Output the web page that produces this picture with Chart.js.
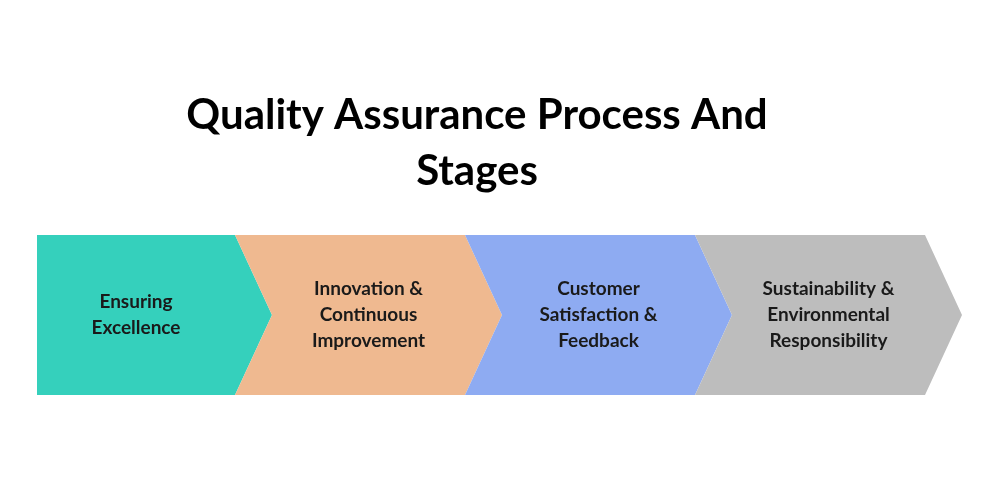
<!DOCTYPE html>
<html><head><meta charset="utf-8">
<script src="https://cdn.jsdelivr.net/npm/chart.js@4"></script>
<style>html,body{margin:0;background:#fff}#c{width:1000px;height:500px}</style>
</head><body><div id="c"><canvas id="chart"></canvas></div>
<script>
const stages = [
  ["Ensuring", "Excellence"],
  ["Innovation &", "Continuous", "Improvement"],
  ["Customer", "Satisfaction &", "Feedback"],
  ["Sustainability &", "Environmental", "Responsibility"]
];
const widths = [198, 230, 230, 230];
const colors = ["#35d0bc", "#efb990", "#8eabf2", "#bdbdbd"];
const titleLines = ["Quality Assurance Process And", "Stages"];
const TIP = 37;

const chevrons = {
  id: 'chevrons',
  afterDatasetsDraw(chart) {
    const ctx = chart.ctx;
    chart.data.datasets.forEach((ds, i) => {
      const bar = chart.getDatasetMeta(i).data[0];
      const x0 = bar.base, x1 = bar.x;
      const top = bar.y - bar.height / 2, bot = bar.y + bar.height / 2, mid = bar.y;
      ctx.save();
      ctx.fillStyle = colors[i];
      ctx.beginPath();
      ctx.moveTo(x0, top);
      ctx.lineTo(x1, top);
      ctx.lineTo(x1 + TIP, mid);
      ctx.lineTo(x1, bot);
      ctx.lineTo(x0, bot);
      if (i > 0) ctx.lineTo(x0 + TIP, mid);
      ctx.closePath();
      ctx.fill();
      ctx.fillStyle = '#1a1a1a';
      ctx.font = 'bold 19px Lato, "Open Sans", sans-serif';
      ctx.textAlign = 'center';
      ctx.textBaseline = 'middle';
      const cx = i === 0 ? (x0 + x1) / 2 : (x0 + x1) / 2 + TIP / 2;
      const lines = stages[i];
      lines.forEach((t, k) => ctx.fillText(t, cx, mid + (k - (lines.length - 1) / 2) * 26));
      ctx.restore();
    });
    ctx.save();
    ctx.fillStyle = '#000';
    ctx.font = 'bold 42px Lato, "Open Sans", sans-serif';
    ctx.textAlign = 'center';
    ctx.textBaseline = 'middle';
    titleLines.forEach((t, k) => ctx.fillText(t, 477, 115 + k * 56));
    ctx.restore();
  }
};

new Chart(document.getElementById('chart'), {
  type: 'bar',
  data: {
    labels: ['stages'],
    datasets: widths.map((w, i) => ({ label: stages[i].join(' '), data: [w], backgroundColor: 'rgba(0,0,0,0)' }))
  },
  options: {
    indexAxis: 'y',
    responsive: true,
    maintainAspectRatio: false,
    animation: false,
    layout: { padding: { top: 235, bottom: 105, left: 37, right: 38 } },
    datasets: { bar: { barPercentage: 1, categoryPercentage: 1 } },
    scales: {
      x: { stacked: true, display: false, min: 0, max: 925 },
      y: { stacked: true, display: false }
    },
    plugins: { legend: { display: false }, tooltip: { enabled: false }, title: { display: false } }
  },
  plugins: [chevrons]
});
</script>
</body></html>
